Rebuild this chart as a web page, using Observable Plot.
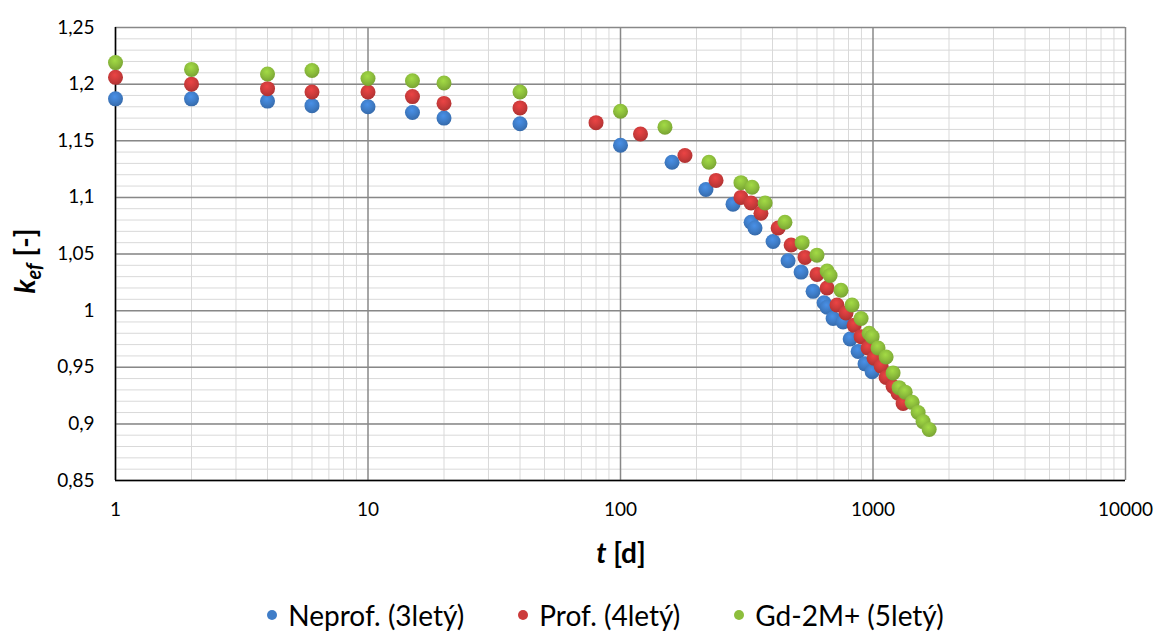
<!DOCTYPE html>
<html>
<head>
<meta charset="utf-8">
<script src="https://cdn.jsdelivr.net/npm/d3@7"></script>
<script src="https://cdn.jsdelivr.net/npm/@observablehq/plot@0.6"></script>
<style>
  body { margin: 0; background: #fff; font-family: Lato, "Open Sans", sans-serif; }
  #legend { display: flex; justify-content: center; gap: 54px; padding-top: 13px; padding-left: 56px;
            font-size: 28px; line-height: 34px; color: #000; font-family: Lato, "Open Sans", sans-serif; }
  #legend .item { display: flex; align-items: center; }
  #legend .sw { width: 10px; height: 10px; border-radius: 50%; margin-right: 11px; }
</style>
</head>
<body>
<div id="chart"></div>
<div id="legend"></div>
<script>
// ---- data ----
const neprofT = [1, 2, 4, 6, 10, 15, 20, 40, 100, 160, 218, 279, 329, 341, 402, 461, 519, 579, 640, 658, 695, 761, 812, 873, 930, 992];
const neprofK = [1.187, 1.187, 1.185, 1.181, 1.180, 1.175, 1.170, 1.165, 1.146, 1.131, 1.107, 1.094, 1.078, 1.073, 1.061, 1.044, 1.034, 1.017, 1.007, 1.003, 0.993, 0.990, 0.975, 0.964, 0.953, 0.946];

const profT = [1, 2, 4, 6, 10, 15, 20, 40, 80, 120, 180, 239, 300, 329, 360, 421, 474, 538, 600, 658, 720, 782, 842, 897, 956, 1010, 1077, 1127, 1201, 1257, 1316];
const profK = [1.206, 1.200, 1.196, 1.193, 1.193, 1.189, 1.183, 1.179, 1.166, 1.156, 1.137, 1.115, 1.100, 1.095, 1.086, 1.073, 1.058, 1.047, 1.032, 1.020, 1.005, 0.998, 0.987, 0.977, 0.967, 0.958, 0.951, 0.941, 0.933, 0.927, 0.918];

const gdT = [1, 2, 4, 6, 10, 15, 20, 40, 100, 150, 224, 300, 332, 374, 448, 524, 600, 658, 676, 747, 826, 897, 965, 992, 1047, 1127, 1201, 1269, 1341, 1429, 1509, 1579, 1669];
const gdK = [1.219, 1.213, 1.209, 1.212, 1.205, 1.203, 1.201, 1.193, 1.176, 1.162, 1.131, 1.113, 1.109, 1.095, 1.078, 1.060, 1.049, 1.035, 1.031, 1.018, 1.005, 0.993, 0.980, 0.977, 0.967, 0.959, 0.945, 0.932, 0.928, 0.919, 0.910, 0.902, 0.895];

const seriesNames = ["Neprof. (3letý)", "Prof. (4letý)", "Gd-2M+ (5letý)"];
const seriesColors = ["#3f7dc8", "#cc3b3b", "#8dbe3c"];

const xTicks = [1, 10, 100, 1000, 10000];
const xMinor = [2,3,4,5,6,7,8,9,20,30,40,50,60,70,80,90,200,300,400,500,600,700,800,900,2000,3000,4000,5000,6000,7000,8000,9000];
const yTicks = [0.85, 0.9, 0.95, 1.0, 1.05, 1.1, 1.15, 1.2, 1.25];
const yMinor = d3.range(85, 126).map(v => v / 100);

// ---- build ----
const toRows = (ts, ks) => ts.map((t, i) => ({ t, k: ks[i] }));
const rows = [toRows(neprofT, neprofK), toRows(profT, profK), toRows(gdT, gdK)];
const gradIds = ["gBlue", "gRed", "gGreen"];

const fmtY = d => String(+d.toFixed(2)).replace(".", ",");

const chart = Plot.plot({
  width: 1155,
  height: 585,
  marginLeft: 115,
  marginRight: 30,
  marginTop: 27,
  marginBottom: 105,
  style: { fontFamily: "Lato, 'Open Sans', sans-serif", fontSize: "19px", color: "#000", background: "#fff" },
  x: { type: "log", domain: [1, 10000], ticks: xTicks, tickFormat: d => String(d), tickSize: 0, tickPadding: 22, label: null },
  y: { domain: [0.85, 1.25], ticks: yTicks, tickFormat: fmtY, tickSize: 0, tickPadding: 21, label: null },
  marks: [
    Plot.ruleY(yMinor, { stroke: "#d9d9d9", strokeWidth: 1 }),
    Plot.ruleX(xMinor, { stroke: "#d9d9d9", strokeWidth: 1 }),
    Plot.ruleY(yTicks, { stroke: "#888", strokeWidth: 1.5 }),
    Plot.ruleX(xTicks, { stroke: "#888", strokeWidth: 1.5 }),
    Plot.ruleX([1], { stroke: "#000", strokeWidth: 1.5 }),
    Plot.ruleY([0.85], { stroke: "#000", strokeWidth: 1.5 }),
    ...rows.map((r, i) => Plot.dot(r, { x: "t", y: "k", r: 7.5, fill: `url(#${gradIds[i]})`, stroke: "none", style: "filter:url(#shadow)" }))
  ]
});

// gradients + shadow
const svg = d3.select(chart);
const defs = svg.insert("defs", ":first-child");
const shade = (c, k) => d3.color(c).darker(k).formatHex();
const light = (c, k) => d3.color(c).brighter(k).formatHex();
seriesColors.forEach((c, i) => {
  const g = defs.append("radialGradient").attr("id", gradIds[i]).attr("cx", "45%").attr("cy", "35%").attr("r", "65%");
  g.append("stop").attr("offset", "0%").attr("stop-color", light(c, 0.4));
  g.append("stop").attr("offset", "55%").attr("stop-color", c);
  g.append("stop").attr("offset", "100%").attr("stop-color", shade(c, 0.45));
});
const f = defs.append("filter").attr("id", "shadow").attr("x", "-50%").attr("y", "-50%").attr("width", "200%").attr("height", "200%");
f.append("feDropShadow").attr("dx", 1).attr("dy", 2).attr("stdDeviation", 1.5).attr("flood-color", "#000").attr("flood-opacity", 0.3);

// axis titles
const xt = svg.append("text").attr("x", 621).attr("y", 563).attr("text-anchor", "middle")
  .attr("font-size", 28).attr("font-weight", "bold").attr("fill", "#000");
xt.append("tspan").attr("font-style", "italic").text("t");
xt.append("tspan").text(" [d]");

const yt = svg.append("text").attr("transform", "translate(35,261) rotate(-90)").attr("text-anchor", "middle")
  .attr("font-size", 28).attr("font-weight", "bold").attr("fill", "#000");
yt.append("tspan").attr("font-style", "italic").text("k");
yt.append("tspan").attr("font-style", "italic").attr("font-size", 20).attr("dy", 6).text("ef");
yt.append("tspan").attr("dy", -6).text(" [-]");

document.getElementById("chart").appendChild(chart);

// legend
const lg = d3.select("#legend");
seriesNames.forEach((n, i) => {
  const it = lg.append("div").attr("class", "item");
  it.append("div").attr("class", "sw").style("background", seriesColors[i]);
  it.append("span").text(n);
});
</script>
</body>
</html>
